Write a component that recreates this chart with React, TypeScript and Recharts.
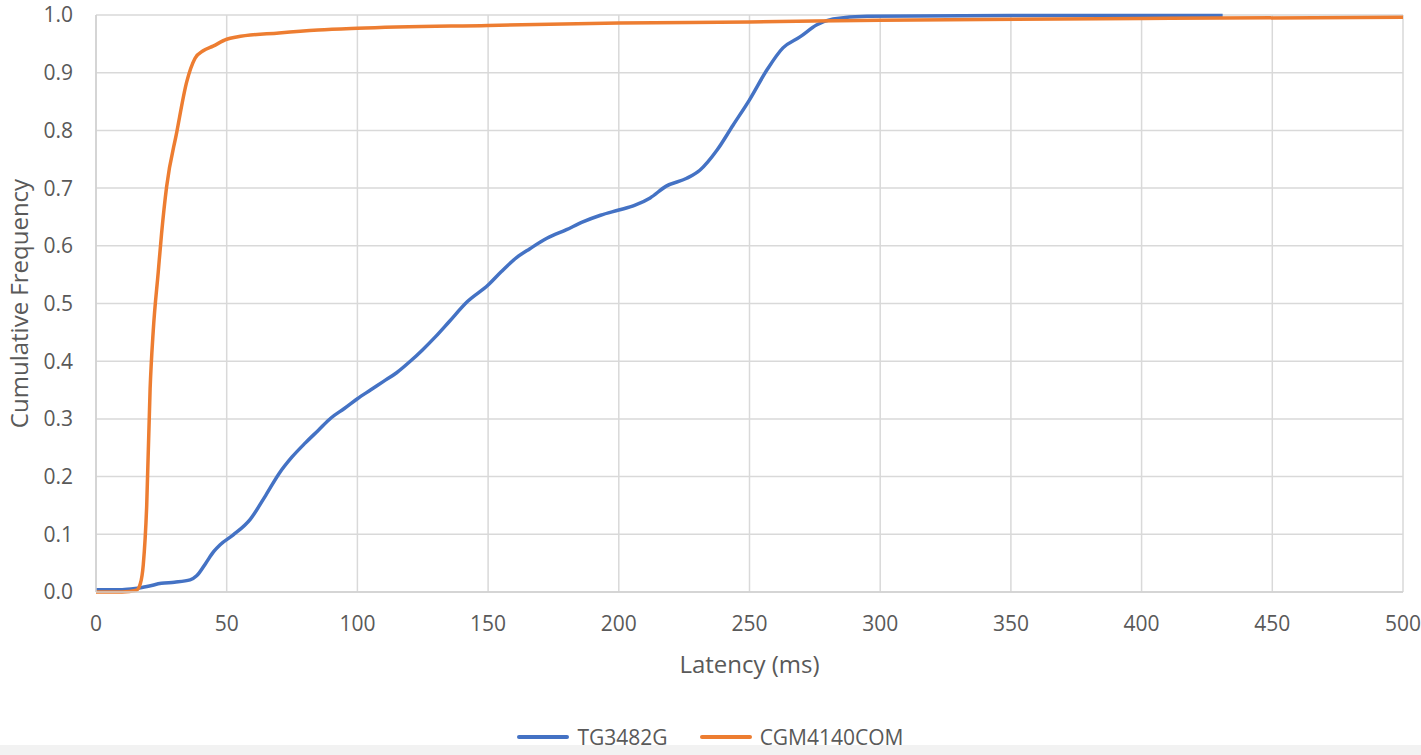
import { LineChart, Line, XAxis, YAxis, CartesianGrid } from "recharts";

const tgLatency = [0, 10, 15, 20, 25, 30, 36, 38.5, 42, 45, 47.5, 52.5, 59, 65, 70, 75, 80, 85, 90, 95, 100, 105, 110, 115, 120, 125, 130, 135, 142, 150, 155, 161, 166, 172.5, 180, 186, 193, 200, 206, 212, 218, 226, 231, 237.6, 243.7, 250, 256.7, 262.8, 269.3, 275.8, 282, 295, 350, 431];
const tgFreq = [0.004, 0.004, 0.006, 0.01, 0.015, 0.017, 0.021, 0.028, 0.05, 0.07, 0.082, 0.099, 0.126, 0.168, 0.205, 0.234, 0.258, 0.28, 0.302, 0.318, 0.335, 0.35, 0.365, 0.38, 0.399, 0.42, 0.443, 0.468, 0.503, 0.532, 0.555, 0.58, 0.595, 0.613, 0.628, 0.641, 0.653, 0.662, 0.67, 0.683, 0.703, 0.717, 0.731, 0.766, 0.809, 0.853, 0.905, 0.943, 0.962, 0.983, 0.993, 0.998, 0.999, 0.999];

const cgmLatency = [0, 10, 15.5, 17, 18.1, 19.4, 20.7, 21.9, 23.8, 25.1, 27, 30.9, 34.7, 37.9, 41, 44.8, 50, 53.8, 70, 85, 100, 150, 200, 250, 300, 400, 500];
const cgmFreq = [0, 0, 0.003, 0.015, 0.048, 0.15, 0.352, 0.453, 0.554, 0.622, 0.702, 0.797, 0.884, 0.925, 0.938, 0.946, 0.958, 0.962, 0.969, 0.974, 0.977, 0.982, 0.986, 0.988, 0.991, 0.994, 0.996];

const xTicks = [0, 50, 100, 150, 200, 250, 300, 350, 400, 450, 500];
const yTicks = [0, 0.1, 0.2, 0.3, 0.4, 0.5, 0.6, 0.7, 0.8, 0.9, 1.0];

const seriesNames = ["TG3482G", "CGM4140COM"];
const colors = ["#4472C4", "#ED7D31"];

const tgData = tgLatency.map((x, i) => ({ x, y: tgFreq[i] }));
const cgmData = cgmLatency.map((x, i) => ({ x, y: cgmFreq[i] }));

const font = "'Open Sans', 'Noto Sans', sans-serif";
const textColor = "#595959";

export default function App() {
  return (
    <div style={{ position: "fixed", top: 0, left: 0, width: 1421, height: 755, background: "#fff", fontFamily: font }}>
      <style>{`body { margin: 0; }`}</style>
      <LineChart width={1421} height={745} margin={{ top: 15, right: 18, bottom: 0, left: 0 }} style={{ overflow: "visible" }}>
        <CartesianGrid stroke="#d9d9d9" strokeWidth={1.5} />
        <XAxis
          type="number"
          dataKey="x"
          domain={[0, 500]}
          ticks={xTicks}
          height={153}
          tickLine={false}
          tickMargin={18}
          axisLine={{ stroke: "#d0d0d0", strokeWidth: 1.5 }}
          tick={{ fill: textColor, fontSize: 21, fontFamily: font }}
          label={{ value: "Latency (ms)", position: "insideTop", offset: 64, fill: textColor, fontSize: 24, fontFamily: font }}
        />
        <YAxis
          type="number"
          domain={[0, 1]}
          ticks={yTicks}
          width={96}
          tickLine={false}
          tickMargin={17}
          tickFormatter={(v: number) => v.toFixed(1)}
          axisLine={{ stroke: "#d0d0d0", strokeWidth: 1.5 }}
          tick={{ fill: textColor, fontSize: 21, fontFamily: font }}
          label={{ value: "Cumulative Frequency", angle: -90, position: "insideLeft", offset: 19, fill: textColor, fontSize: 24, fontFamily: font, style: { textAnchor: "middle" } }}
        />
        <Line data={tgData} dataKey="y" type="monotone" stroke={colors[0]} strokeWidth={3.5} dot={false} isAnimationActive={false} name={seriesNames[0]} />
        <Line data={cgmData} dataKey="y" type="monotone" stroke={colors[1]} strokeWidth={3.5} dot={false} isAnimationActive={false} name={seriesNames[1]} />
      </LineChart>
      <div style={{ position: "absolute", top: 723, left: 0, width: 1421, display: "flex", justifyContent: "center", gap: 32, color: textColor, fontSize: 21 }}>
        {seriesNames.map((n, i) => (
          <div key={n} style={{ display: "flex", alignItems: "center", gap: 8 }}>
            <span style={{ display: "inline-block", width: 52, height: 4, borderRadius: 2, background: colors[i] }} />
            <span>{n}</span>
          </div>
        ))}
      </div>
      <div style={{ position: "absolute", top: 745, left: 0, width: 1421, height: 10, background: "#f2f2f2" }} />
    </div>
  );
}
